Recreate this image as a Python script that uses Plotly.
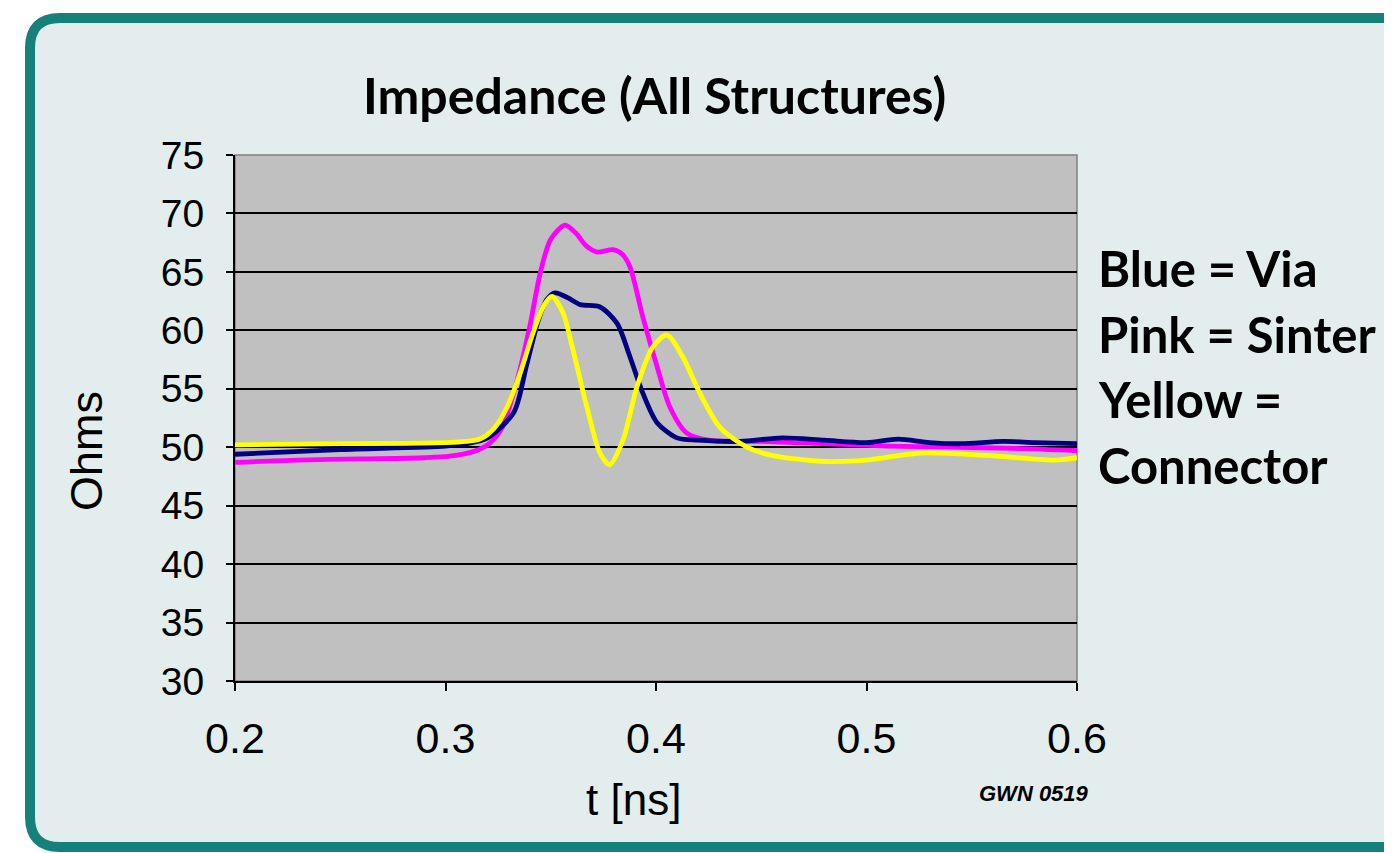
import plotly.graph_objects as go

# ---- data ----
x_sinter = [0.20, 0.23, 0.26, 0.29, 0.305, 0.316, 0.322, 0.327, 0.334, 0.340, 0.345, 0.350, 0.3568, 0.362, 0.367, 0.372, 0.3796, 0.384, 0.3877, 0.3938, 0.4005, 0.4067, 0.4147, 0.425, 0.45, 0.48, 0.51, 0.54, 0.57, 0.60]
y_sinter = [48.7, 48.9, 49.0, 49.1, 49.3, 49.8, 50.5, 51.7, 55.7, 60.3, 64.9, 67.8, 69.0, 68.3, 67.2, 66.7, 66.9, 66.5, 65.4, 61.1, 56.9, 53.4, 51.2, 50.6, 50.5, 50.3, 50.1, 50.0, 49.9, 49.7]

x_via = [0.20, 0.25, 0.30, 0.31, 0.32, 0.3325, 0.3385, 0.3440, 0.348, 0.352, 0.358, 0.364, 0.3734, 0.3815, 0.3877, 0.3938, 0.4005, 0.41, 0.42, 0.44, 0.46, 0.48, 0.50, 0.515, 0.53, 0.545, 0.565, 0.58, 0.60]
y_via = [49.4, 49.8, 50.1, 50.3, 50.8, 53.0, 57.0, 60.8, 62.6, 63.2, 62.8, 62.2, 62.0, 60.6, 57.7, 54.6, 52.1, 50.8, 50.6, 50.5, 50.8, 50.6, 50.4, 50.7, 50.4, 50.3, 50.5, 50.4, 50.3]

x_conn = [0.20, 0.25, 0.30, 0.31, 0.3164, 0.3230, 0.3292, 0.3354, 0.3416, 0.3470, 0.3506, 0.3558, 0.3606, 0.3672, 0.3734, 0.378, 0.3843, 0.391, 0.3986, 0.4052, 0.4128, 0.4209, 0.4304, 0.4432, 0.455, 0.478, 0.50, 0.5254, 0.557, 0.589, 0.60]
y_conn = [50.2, 50.3, 50.4, 50.5, 50.7, 51.6, 53.4, 56.3, 59.8, 62.2, 62.9, 61.5, 58.3, 53.4, 49.5, 48.5, 50.6, 55.2, 58.6, 59.6, 57.7, 54.6, 51.7, 50.0, 49.3, 48.8, 48.9, 49.5, 49.3, 48.9, 49.1]

x_ticks = [0.2, 0.3, 0.4, 0.5, 0.6]
x_tick_labels = ["0.2", "0.3", "0.4", "0.5", "0.6"]
y_ticks = [30, 35, 40, 45, 50, 55, 60, 65, 70, 75]

title_text = "Impedance (All Structures)"
legend_lines = ["Blue = Via", "Pink = Sinter", "Yellow =", "Connector"]

# ---- layout geometry (page pixels; the page body adds an 8px offset) ----
OFF = 8
W, H = 1392 - OFF, 853 - OFF
L, R, T, B = 235, 1077, 155, 681
pw, ph = R - L, B - T

def px(x):
    return (x - L) / pw

def py(y):
    return (B - y) / ph

fig = go.Figure()
line_w = 4.8
fig.add_trace(go.Scatter(x=x_sinter, y=y_sinter, mode="lines", name="Sinter",
                         line=dict(color="#ff00ff", width=line_w, shape="spline", smoothing=0.8)))
fig.add_trace(go.Scatter(x=x_via, y=y_via, mode="lines", name="Via",
                         line=dict(color="#000080", width=line_w, shape="spline", smoothing=0.8)))
fig.add_trace(go.Scatter(x=x_conn, y=y_conn, mode="lines", name="Connector",
                         line=dict(color="#ffff00", width=line_w, shape="spline", smoothing=0.8)))

# rounded panel path (paper coords)
x0, x1 = px(30), px(1430)
y0, y1 = py(847), py(18)
rx, ry = 30 / pw, 30 / ph
panel = (f"M {x0+rx},{y1} L {x1-rx},{y1} Q {x1},{y1} {x1},{y1-ry} "
         f"L {x1},{y0+ry} Q {x1},{y0} {x1-rx},{y0} L {x0+rx},{y0} "
         f"Q {x0},{y0} {x0},{y0+ry} L {x0},{y1-ry} Q {x0},{y1} {x0+rx},{y1} Z")

shapes = [
    dict(type="path", path=panel, xref="paper", yref="paper", layer="below",
         fillcolor="#e3eded", line=dict(color="#16807a", width=10)),
    dict(type="rect", xref="paper", yref="paper", x0=0, x1=1, y0=0, y1=1, layer="below",
         fillcolor="#c0c0c0", line=dict(color="#808080", width=1.5)),
]

TXT = "Lato"
ARIAL = "Liberation Sans, Arial"
annotations = [
    dict(text=f"<b>{title_text}</b>", xref="paper", yref="paper", x=px(654), y=py(95),
         xanchor="center", yanchor="middle", showarrow=False,
         font=dict(family=TXT, size=50, color="#000000")),
    dict(text="Ohms", xref="paper", yref="paper", x=px(87), y=py(451), textangle=-90,
         xanchor="center", yanchor="middle", showarrow=False,
         font=dict(family=ARIAL, size=45, color="#000000")),
    dict(text="t [ns]", xref="paper", yref="paper", x=px(633), y=py(800),
         xanchor="center", yanchor="middle", showarrow=False,
         font=dict(family=ARIAL, size=44, color="#000000")),
    dict(text="<b><i>GWN 0519</i></b>", xref="paper", yref="paper", x=px(977), y=py(793),
         xanchor="left", yanchor="middle", showarrow=False,
         font=dict(family=ARIAL, size=22, color="#000000")),
]
for i, t in enumerate(legend_lines):
    annotations.append(dict(text=f"<b>{t}</b>", xref="paper", yref="paper",
                            x=px(1096), y=py(268 + 65.5 * i), xanchor="left", yanchor="middle",
                            showarrow=False, font=dict(family=TXT, size=49, color="#000000")))

fig.update_layout(
    width=W, height=H,
    margin=dict(l=L - OFF, r=W - (R - OFF), t=T - OFF, b=H - (B - OFF), pad=0),
    paper_bgcolor="#ffffff",
    plot_bgcolor="rgba(0,0,0,0)",
    showlegend=False,
    shapes=shapes,
    annotations=annotations,
    xaxis=dict(range=[0.2, 0.6], tickvals=x_ticks, ticktext=x_tick_labels,
               showgrid=False, zeroline=False, showline=True, linecolor="#000000", linewidth=2,
               ticks="outside", ticklen=8, tickwidth=2, tickcolor="#000000",
               ticklabelstandoff=10,
               tickfont=dict(family=ARIAL, size=43, color="#000000")),
    yaxis=dict(range=[30, 75], tickvals=y_ticks,
               showgrid=True, gridcolor="#000000", gridwidth=2, zeroline=False,
               showline=True, linecolor="#000000", linewidth=2,
               ticks="outside", ticklen=7, tickwidth=2, tickcolor="#000000",
               ticklabelstandoff=14,
               tickfont=dict(family=ARIAL, size=39, color="#000000")),
)

fig.write_html("out.html")
